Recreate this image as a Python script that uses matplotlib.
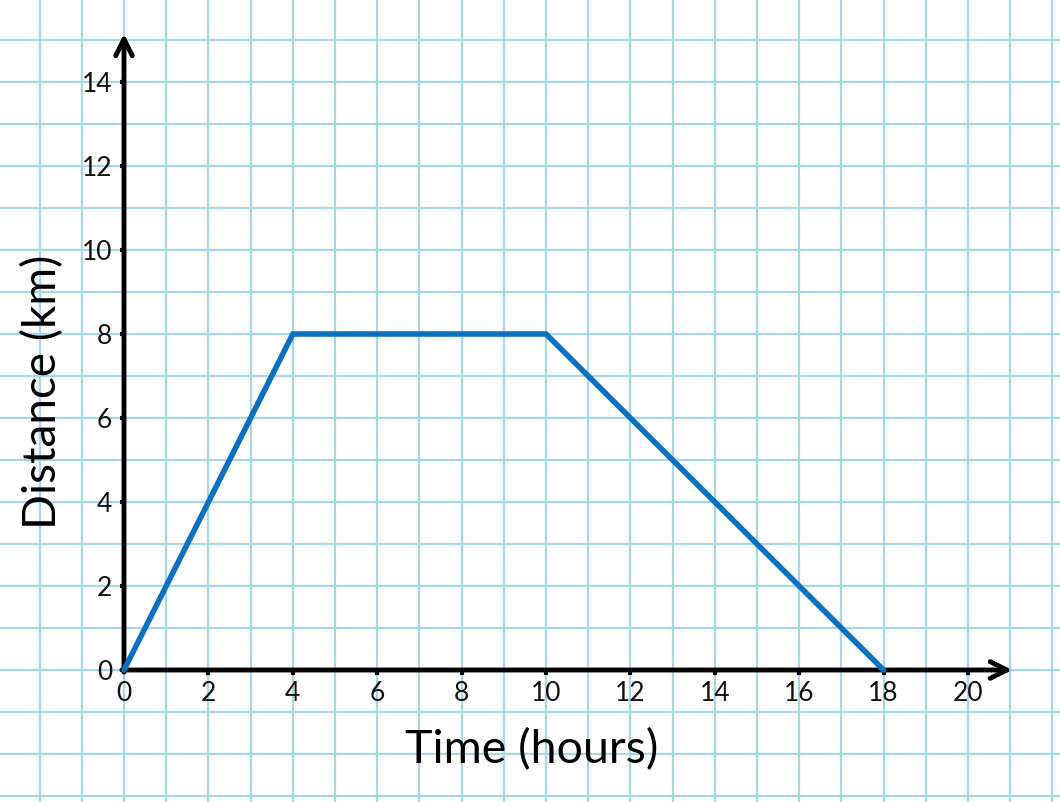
import matplotlib
matplotlib.use("Agg")
import matplotlib.pyplot as plt
import numpy as np

# Data
time_hours = [0, 4, 10, 18]
distance_km = [0, 8, 8, 0]
x_ticks = [0, 2, 4, 6, 8, 10, 12, 14, 16, 18, 20]
y_ticks = [0, 2, 4, 6, 8, 10, 12, 14]
x_label = "Time (hours)"
y_label = "Distance (km)"

W, H = 1060, 802
fig = plt.figure(figsize=(W / 100, H / 100), dpi=100)
ax = fig.add_axes([0, 0, 1, 1])

# pixel mapping: x=0 at px 124, 42.2 px/unit; y=0 at px 670, 42 px/unit
sx, sy = 42.2, 42.0
x0p, y0p = 124, 670
ax.set_xlim(-x0p / sx, (W - x0p) / sx)
ax.set_ylim(-(H - y0p) / sy, y0p / sy)

for s in ax.spines.values():
    s.set_visible(False)
ax.set_xticks([])
ax.set_yticks([])

grid_col = "#a6d7e6"
for gx in range(-3, 24):
    ax.axvline(gx, color=grid_col, lw=1.6, zorder=0)
for gy in range(-4, 17):
    ax.axhline(gy, color=grid_col, lw=1.6, zorder=0)

font = ["Lato", "DejaVu Sans"]

# axes with arrows
ax.annotate("", xy=(21.05, 0), xytext=(-0.05, 0),
            arrowprops=dict(arrowstyle="->", lw=3.5, color="black",
                            mutation_scale=30, shrinkA=0, shrinkB=0), zorder=3)
ax.annotate("", xy=(0, 15.15), xytext=(0, -0.05),
            arrowprops=dict(arrowstyle="->", lw=3.5, color="black",
                            mutation_scale=30, shrinkA=0, shrinkB=0), zorder=3)

# tick marks
for t in x_ticks[1:]:
    ax.plot([t, t], [0, -0.12], color="black", lw=3, solid_capstyle="butt", zorder=3)
for t in y_ticks[1:]:
    ax.plot([0, -0.1], [t, t], color="black", lw=3, solid_capstyle="butt", zorder=3)

# tick labels
for t in x_ticks:
    ax.text(t, -0.57, str(t), ha="center", va="center", fontsize=19,
            family=font, color="#111111", zorder=4)
for t in y_ticks:
    ax.text(-0.28, t - 0.05, str(t), ha="right", va="center", fontsize=19,
            family=font, color="#111111", zorder=4)

# axis labels
ax.text(9.65, -1.9, x_label, ha="center", va="center", fontsize=33.5,
        family=font, color="black", zorder=4)
ax.text(-1.93, 6.62, y_label, ha="center", va="center", fontsize=33,
        family=font, color="black", rotation=90, zorder=4)

# data line
ax.plot(time_hours, distance_km, color="#0a70c0", lw=4, solid_joinstyle="miter",
        solid_capstyle="round", zorder=5)

fig.savefig("out.png", dpi=100)
